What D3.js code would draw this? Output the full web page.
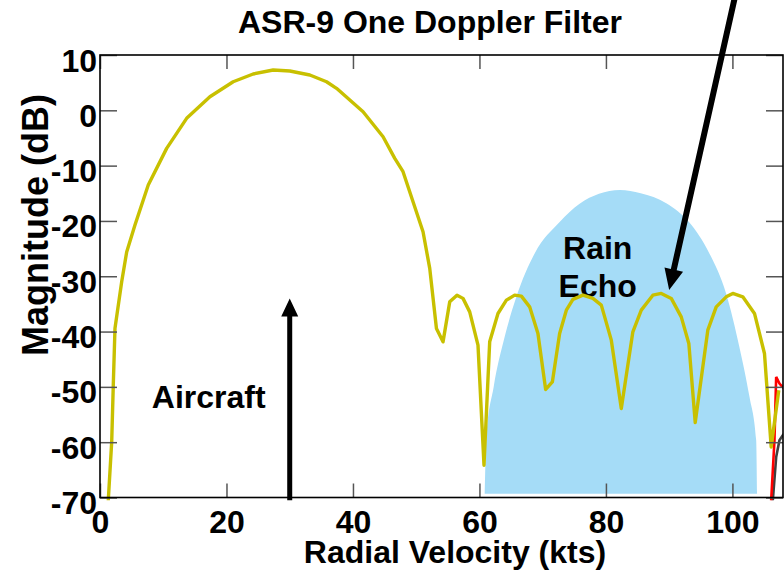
<!DOCTYPE html>
<html>
<head>
<meta charset="utf-8">
<script src="https://cdn.jsdelivr.net/npm/d3@7"></script>
<style>
  html, body { margin: 0; padding: 0; background: #fff; }
  svg { display: block; font-family: "Liberation Sans", Arial, sans-serif; font-weight: bold; }
</style>
</head>
<body>
<svg id="chart" width="784" height="570"></svg>
<script>
// Doppler filter response (kts, dB)
const filterKts = [1.31, 1.85, 2.10, 2.37, 3.43, 4.22, 5.53, 7.63, 10.54, 13.70, 17.38, 21.06, 24.22, 27.38,
  30.02, 33.18, 35.82, 37.40, 39.5, 41.6, 44.76, 46.61, 47.92, 49.5, 51.08, 52.14, 53.2, 54.24,
  55.3, 56.45, 57.4, 58.46, 59.77, 60.72, 61.62, 62.93, 64.26, 65.57, 66.63, 67.94, 69.25, 70.47,
  71.53, 72.68, 73.74, 74.78, 76.36, 77.94, 79.27, 80.85, 82.43, 84.26, 85.59, 87.42, 88.75, 90.33,
  91.91, 93.11, 94.12, 96.11, 97.44, 99.02, 100.06, 101.64, 103.49, 105.07, 106.13, 107.33];
const filterDb = [-70.5, -59.95, -49.7, -39.4, -31.0, -25.6, -20.75, -13.5, -6.88, -1.45, 2.46, 5.17, 6.56, 7.29,
  7.11, 6.38, 5.17, 3.98, 1.86, -0.26, -4.78, -8.69, -11.1, -16.54, -21.96, -28.58, -39.44, -41.86,
  -34.63, -33.42, -34.0, -36.44, -42.46, -64.17, -41.86, -36.73, -34.32, -33.42, -33.6, -35.53, -40.34, -50.47,
  -49.1, -40.34, -36.13, -34.19, -33.42, -34.01, -35.22, -41.55, -53.9, -40.05, -36.13, -33.42, -33.11, -34.01,
  -37.34, -42.15, -56.44, -39.75, -35.53, -33.72, -33.11, -33.72, -36.72, -43.96, -60.86, -50.6];

// Neighbouring filters entering at the right edge
const redKts = [106.13, 106.65, 106.92, 107.44, 108.07, 108.6];
const redDb = [-70.5, -59.65, -48.2, -49.4, -50.2, -51.0];
const grayKts = [106.39, 106.92, 107.44, 107.96, 108.6];
const grayDb = [-70.5, -62.7, -59.65, -58.74, -58.0];

// Rain echo spectrum outline (kts, dB)
const rainKts = [60.83, 61.1, 62.25, 63.99, 65.84, 68.73, 72.68, 75.84, 78.9, 82.2, 85.5, 89.54,
  93.2, 96.36, 99.0, 101.1, 102.7, 103.76, 103.9];
const rainDb = [-69.3, -59.05, -50.0, -40.96, -33.72, -25.87, -20.2, -16.9, -15.1, -14.4, -15.0, -16.8,
  -20.3, -25.87, -33.1, -42.77, -51.8, -59.65, -69.3];

const xTicks = [0, 20, 40, 60, 80, 100];
const yTicks = [10, 0, -10, -20, -30, -40, -50, -60, -70];

// Annotation anchors (kts, dB)
const aircraftKts = 30;
const aircraftArrowDb = [-70.5, -34];
const aircraftLabel = [17.2, -53.9];
const rainLabel = [78.7, -26.96, -33.7];
const rainArrow = [[100.4, 20.5], [90, -32.5]];

const svg = d3.select("#chart");
const plot = { left: 100, right: 783, top: 55, bottom: 497.5 };
const FONT = "Liberation Sans, Arial, sans-serif";

const x = d3.scaleLinear().domain([0, 108]).range([plot.left, plot.right]);
const y = d3.scaleLinear().domain([-70, 10]).range([plot.bottom, plot.top]);

svg.append("defs").append("clipPath").attr("id", "plot-clip")
  .append("rect")
  .attr("x", plot.left).attr("y", plot.top)
  .attr("width", plot.right - plot.left).attr("height", plot.bottom - plot.top + 3.5);

const g = svg.append("g").attr("clip-path", "url(#plot-clip)");

// rain echo area
const rainPts = rainKts.map((v, i) => [v, rainDb[i]]);
g.append("path")
  .datum(rainPts)
  .attr("fill", "#a5dcf7")
  .attr("stroke", "none")
  .attr("d", d3.line().x(d => x(d[0])).y(d => y(d[1])).curve(d3.curveMonotoneX));

// labels inside the plot
const label = (txt, xx, yy) => svg.append("text")
  .attr("x", xx).attr("y", yy).attr("text-anchor", "middle")
  .attr("font-size", 32).attr("fill", "#000").text(txt);
label("Aircraft", x(aircraftLabel[0]), y(aircraftLabel[1]));
label("Rain", x(rainLabel[0]), y(rainLabel[1]));
label("Echo", x(rainLabel[0]), y(rainLabel[2]));

const lineGen = d3.line().x(d => x(d[0])).y(d => y(d[1]));
const g2 = svg.append("g").attr("clip-path", "url(#plot-clip)");
g2.append("path").datum(grayKts.map((v, i) => [v, grayDb[i]]))
  .attr("fill", "none").attr("stroke", "#404040").attr("stroke-width", 2.6).attr("d", lineGen);
g2.append("path").datum(redKts.map((v, i) => [v, redDb[i]]))
  .attr("fill", "none").attr("stroke", "#ff0000").attr("stroke-width", 2.6).attr("d", lineGen);
g2.append("path").datum(filterKts.map((v, i) => [v, filterDb[i]]))
  .attr("fill", "none").attr("stroke", "#c8c000").attr("stroke-width", 3.4)
  .attr("stroke-linejoin", "round").attr("d", lineGen);

// axes with inward ticks on all four sides
const tickColor = "#555";
function styleAxis(sel) {
  sel.select(".domain").remove();
  sel.selectAll(".tick line").attr("stroke", tickColor).attr("stroke-width", 1.5);
}
const fmt = d => String(d);
const xBottom = svg.append("g").attr("transform", `translate(0,${plot.bottom})`)
  .call(d3.axisBottom(x).tickValues(xTicks).tickSize(-14).tickFormat(fmt));
styleAxis(xBottom);
xBottom.selectAll(".tick text").attr("y", 35.5).attr("dy", 0)
  .attr("font-size", 32).attr("font-weight", "bold").attr("fill", "#000")
  .attr("font-family", FONT);

const xTop = svg.append("g").attr("transform", `translate(0,${plot.top})`)
  .call(d3.axisTop(x).tickValues(xTicks).tickSize(-14).tickFormat(""));
styleAxis(xTop);

const yLeft = svg.append("g").attr("transform", `translate(${plot.left},0)`)
  .call(d3.axisLeft(y).tickValues(yTicks).tickSize(-17).tickFormat(fmt));
styleAxis(yLeft);
yLeft.selectAll(".tick text").attr("x", -3).attr("dy", 16)
  .attr("font-size", 32).attr("font-weight", "bold").attr("fill", "#000")
  .attr("font-family", FONT);

const yRight = svg.append("g").attr("transform", `translate(${plot.right},0)`)
  .call(d3.axisRight(y).tickValues(yTicks).tickSize(-17).tickFormat(""));
styleAxis(yRight);

// frame
svg.append("rect")
  .attr("x", plot.left).attr("y", plot.top)
  .attr("width", plot.right - plot.left).attr("height", plot.bottom - plot.top)
  .attr("fill", "none").attr("stroke", "#000").attr("stroke-width", 1.6);

// block arrows
function arrow(x1, y1, x2, y2, shaftW, headW, headL) {
  const dx = x2 - x1, dy = y2 - y1, len = Math.hypot(dx, dy);
  const ux = dx / len, uy = dy / len, px = -uy, py = ux;
  const bx = x2 - ux * headL, by = y2 - uy * headL;
  const pts = [
    [x1 + px * shaftW / 2, y1 + py * shaftW / 2],
    [bx + px * shaftW / 2, by + py * shaftW / 2],
    [bx + px * headW / 2, by + py * headW / 2],
    [x2, y2],
    [bx - px * headW / 2, by - py * headW / 2],
    [bx - px * shaftW / 2, by - py * shaftW / 2],
    [x1 - px * shaftW / 2, y1 - py * shaftW / 2]
  ];
  svg.append("path").attr("d", "M" + pts.map(p => p.join(",")).join("L") + "Z").attr("fill", "#000");
}
arrow(x(aircraftKts), y(aircraftArrowDb[0]), x(aircraftKts), y(aircraftArrowDb[1]), 5, 17, 18);
arrow(x(rainArrow[0][0]), y(rainArrow[0][1]), x(rainArrow[1][0]), y(rainArrow[1][1]), 6, 19, 21);

// titles
svg.append("text").attr("x", 430).attr("y", 33).attr("text-anchor", "middle")
  .attr("font-size", 32).text("ASR-9 One Doppler Filter");
svg.append("text").attr("x", 455).attr("y", 563).attr("text-anchor", "middle")
  .attr("font-size", 32).text("Radial Velocity (kts)");
svg.append("text").attr("transform", "translate(48,225) rotate(-90)").attr("text-anchor", "middle")
  .attr("font-size", 36).text("Magnitude (dB)");
</script>
</body>
</html>
